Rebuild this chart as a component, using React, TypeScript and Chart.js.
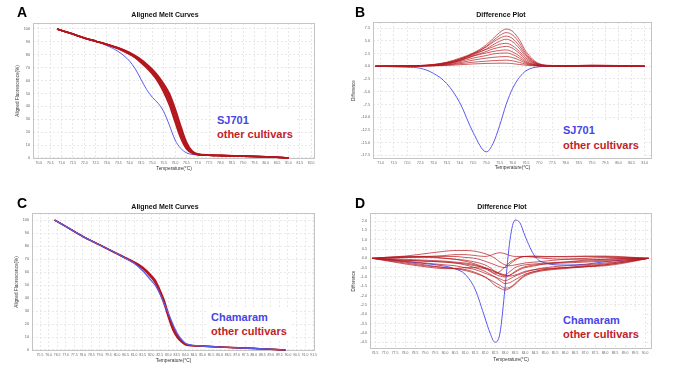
import React, { useEffect, useRef } from "react";
import { Chart, registerables } from "chart.js";
Chart.register(...registerables);

// ---------- DATA ----------
// Panel A: aligned melt curves (SJ701 vs other cultivars)
const tempsA = [70.8, 71.5, 72.0, 72.5, 73.0, 73.5, 74.0, 74.25, 74.5, 74.75, 75.0, 75.25, 75.5, 75.75, 76.0, 76.25, 76.5, 76.75, 77.0, 77.5, 78.0, 79.0, 80.0, 81.0];
const meltA_sj701 = [100, 96, 93, 90.5, 87, 82.5, 75, 69, 61, 53, 47, 42.5, 36, 25.5, 14, 7.5, 4, 2.8, 2.3, 2.0, 1.8, 1.3, 0.9, 0.1];
const meltA_other1 = [100, 96, 93, 90.5, 88, 85, 81, 78.5, 75, 71.5, 67, 61.5, 54.5, 46, 33, 20, 9.5, 4.5, 2.8, 2.2, 1.9, 1.4, 1.0, 0.1];
const meltA_other2 = [100, 96, 93, 90.5, 88, 84.7, 80.3, 77.5, 73.8, 69.8, 65, 59, 51, 41, 28, 15.5, 7.2, 3.8, 2.6, 2.1, 1.8, 1.3, 0.9, 0.1];
const meltA_other3 = [100, 96, 93, 90.5, 88.2, 85.4, 81.8, 79.3, 76.3, 72.8, 68.8, 63.8, 57.5, 50, 38.5, 25, 12.5, 5.5, 3.1, 2.3, 2.0, 1.5, 1.0, 0.1];
const meltA_other4 = [100, 96, 93, 90.5, 88, 85.2, 81.4, 78.9, 75.6, 72.2, 67.9, 62.7, 56, 48, 36, 22.5, 11, 5, 2.9, 2.2, 1.9, 1.4, 1.0, 0.1];
const meltA_other5 = [100, 96, 93, 90.5, 88, 84.9, 80.6, 78, 74.4, 70.6, 66, 60.2, 52.8, 43.5, 30.5, 17.8, 8.3, 4.1, 2.7, 2.1, 1.8, 1.3, 0.9, 0.1];

// Panel B: difference plot
const tempsB = [70.8, 72.0, 72.5, 73.0, 73.5, 74.0, 74.5, 75.0, 75.25, 75.5, 75.75, 76.0, 76.25, 76.5, 77.0, 77.5, 78.0, 79.0, 80.0, 81.0];
const diffB_sj701 = [0, -0.2, -0.4, -1.4, -3.4, -7.2, -13, -16.8, -15.2, -11.7, -7.5, -4.3, -2.2, -0.9, -0.1, 0, 0, 0, 0, 0];
const diffB_o1 = [0, 0.05, 0.15, 0.35, 0.8, 1.6, 2.6, 4.2, 5.4, 6.6, 7.3, 6.8, 5.2, 2.9, 0.5, 0.15, 0.1, 0.2, 0.15, 0];
const diffB_o2 = [0, 0.05, 0.15, 0.3, 0.7, 1.4, 2.4, 3.9, 5.0, 6.0, 6.6, 6.1, 4.6, 2.5, 0.4, 0.12, 0.1, 0.2, 0.12, 0];
const diffB_o3 = [0, 0.05, 0.12, 0.3, 0.7, 1.4, 2.5, 3.8, 4.7, 5.5, 5.9, 5.4, 4.0, 2.2, 0.35, 0.1, 0.08, 0.15, 0.1, 0];
const diffB_o4 = [0, 0.04, 0.1, 0.25, 0.6, 1.2, 2.2, 3.4, 4.2, 4.9, 5.3, 4.8, 3.5, 1.9, 0.3, 0.1, 0.08, 0.15, 0.1, 0];
const diffB_o5 = [0, 0.04, 0.1, 0.25, 0.6, 1.3, 2.4, 3.3, 3.8, 4.3, 4.5, 4.0, 2.9, 1.6, 0.25, 0.08, 0.06, 0.12, 0.08, 0];
const diffB_o6 = [0, 0.03, 0.08, 0.2, 0.5, 1.1, 2.0, 2.9, 3.4, 3.7, 3.9, 3.5, 2.5, 1.3, 0.2, 0.07, 0.05, 0.1, 0.08, 0];
const diffB_o7 = [0, 0.03, 0.08, 0.2, 0.5, 1.1, 2.0, 2.6, 2.9, 3.1, 3.2, 2.8, 2.0, 1.0, 0.15, 0.06, 0.05, 0.1, 0.06, 0];
const diffB_o8 = [0, 0.02, 0.06, 0.15, 0.4, 0.9, 1.6, 2.1, 2.4, 2.55, 2.6, 2.3, 1.6, 0.8, 0.12, 0.05, 0.04, 0.08, 0.05, 0];
const diffB_o9 = [0, 0.02, 0.05, 0.12, 0.3, 0.7, 1.2, 1.6, 1.75, 1.85, 1.9, 1.7, 1.2, 0.6, 0.1, 0.04, 0.03, 0.06, 0.04, 0];
const diffB_o10 = [0, 0.01, 0.04, 0.1, 0.25, 0.5, 0.8, 1.0, 1.1, 1.15, 1.2, 1.05, 0.75, 0.4, 0.07, 0.03, 0.02, 0.05, 0.03, 0];
const diffB_o11 = [0, 0.01, 0.03, 0.08, 0.15, 0.3, 0.45, 0.55, 0.58, 0.6, 0.6, 0.5, 0.35, 0.2, 0.05, 0.02, 0.02, 0.04, 0.02, 0];

// Panel C: aligned melt curves (Chamaram vs other cultivars)
const tempsC = [76.35, 77.0, 78.0, 79.0, 80.0, 80.5, 81.0, 81.5, 82.0, 82.25, 82.5, 82.75, 83.0, 83.25, 83.5, 83.75, 84.0, 84.5, 85.0, 86.0, 87.0, 88.0, 89.0, 89.85];
const meltC_chamaram = [100, 95.1, 87.4, 80.8, 74.2, 70.6, 66.8, 61.0, 53.5, 49.5, 43.5, 36.0, 28.3, 20.5, 13.5, 8.5, 5.2, 3.5, 3.0, 2.3, 1.7, 1.2, 0.6, 0];
const meltC_other1 = [100, 95.1, 87.4, 80.8, 74.2, 70.8, 67.5, 63.2, 56.8, 52.5, 45.5, 37.2, 26.9, 17.3, 11, 7, 4.3, 3.3, 3.0, 2.3, 1.7, 1.2, 0.6, 0];
const meltC_other2 = [100, 95.0, 87.3, 80.7, 74.0, 70.5, 67.0, 62.5, 55.8, 51.2, 44.0, 35.5, 25.2, 15.8, 10.0, 6.4, 4.0, 3.2, 2.9, 2.2, 1.6, 1.1, 0.5, 0];
const meltC_other3 = [100, 95.2, 87.5, 80.9, 74.4, 71.1, 67.9, 63.8, 57.6, 53.5, 46.8, 38.8, 28.4, 18.6, 12.0, 7.6, 4.6, 3.4, 3.1, 2.4, 1.8, 1.3, 0.7, 0];

// Panel D: difference plot
const tempsD = [76.37, 77.0, 78.0, 79.0, 80.0, 80.5, 81.0, 81.5, 82.0, 82.25, 82.5, 82.75, 83.0, 83.25, 83.5, 83.75, 84.0, 84.5, 85.0, 86.0, 87.0, 88.0, 89.0, 90.17];
const diffD_chamaram = [0, -0.05, -0.17, -0.28, -0.42, -0.56, -0.85, -1.65, -3.2, -4.0, -4.5, -4.0, -1.6, 1.0, 2.05, 1.9, 1.2, 0.1, -0.25, -0.36, -0.32, -0.18, -0.08, 0];
const diffD_o1 = [0, 0.05, 0.12, 0.25, 0.38, 0.42, 0.42, 0.38, 0.25, 0.15, 0.0, -0.2, -0.35, -0.4, -0.35, -0.3, -0.25, -0.2, -0.15, -0.05, 0.0, 0.05, 0.03, 0];
const diffD_o2 = [0, 0.02, 0.08, 0.1, 0.15, 0.2, 0.2, 0.15, 0.1, 0.15, 0.25, 0.3, 0.25, 0.15, 0.1, 0.1, 0.1, 0.1, 0.08, 0.1, 0.12, 0.1, 0.05, 0];
const diffD_o3 = [0, -0.05, -0.15, -0.25, -0.35, -0.4, -0.5, -0.6, -0.8, -0.9, -1.0, -1.1, -1.2, -1.1, -0.95, -0.85, -0.75, -0.6, -0.5, -0.4, -0.35, -0.25, -0.15, 0];
const diffD_o4 = [0, -0.08, -0.2, -0.35, -0.5, -0.55, -0.65, -0.8, -1.0, -1.15, -1.3, -1.45, -1.6, -1.55, -1.35, -1.1, -0.9, -0.7, -0.6, -0.5, -0.45, -0.35, -0.2, 0];
const diffD_o5 = [0, -0.1, -0.25, -0.4, -0.5, -0.55, -0.6, -0.75, -1.0, -1.2, -1.45, -1.6, -1.7, -1.6, -1.4, -1.15, -0.95, -0.75, -0.65, -0.55, -0.45, -0.35, -0.2, 0];
const diffD_o6 = [0, 0.05, 0.1, 0.1, 0.0, -0.05, -0.1, -0.2, -0.35, -0.5, -0.7, -0.85, -0.95, -0.9, -0.75, -0.6, -0.5, -0.4, -0.3, -0.2, -0.1, -0.05, 0, 0];
const diffD_o7 = [0, 0.0, -0.05, -0.1, -0.15, -0.2, -0.25, -0.35, -0.55, -0.7, -0.85, -0.95, -1.0, -0.9, -0.7, -0.55, -0.45, -0.35, -0.3, -0.25, -0.2, -0.15, -0.1, 0];
const diffD_o8 = [0, -0.05, -0.1, -0.15, -0.2, -0.25, -0.3, -0.4, -0.5, -0.6, -0.75, -0.85, -0.9, -0.7, -0.5, -0.4, -0.35, -0.3, -0.25, -0.2, -0.15, -0.1, -0.05, 0];
const diffD_o9 = [0, 0.03, 0.05, 0.05, 0.0, -0.05, -0.15, -0.3, -0.5, -0.65, -0.8, -0.7, -0.45, -0.2, -0.05, 0.05, 0.1, 0.05, 0.0, -0.05, -0.05, -0.05, 0, 0];
const diffD_o10 = [0, -0.12, -0.3, -0.45, -0.55, -0.55, -0.5, -0.5, -0.55, -0.6, -0.7, -0.8, -0.9, -0.95, -0.9, -0.8, -0.7, -0.6, -0.55, -0.5, -0.45, -0.4, -0.25, 0];
const diffD_o11 = [0, -0.05, -0.1, -0.15, -0.2, -0.25, -0.35, -0.5, -0.7, -0.85, -1.0, -1.2, -1.35, -1.3, -1.15, -1.0, -0.85, -0.7, -0.6, -0.5, -0.4, -0.3, -0.15, 0];
const diffD_o12 = [0, 0.02, 0.05, 0.08, 0.1, 0.1, 0.05, 0.0, -0.15, -0.25, -0.35, -0.45, -0.5, -0.3, -0.1, 0.05, 0.1, 0.12, 0.1, 0.08, 0.1, 0.12, 0.08, 0];

// ---------- STYLES ----------
const BLUE = "#5a5af0";
const RED = "#b3161c";
const RED_THIN = "rgba(180,24,30,0.78)";
const GRID = "#e2e2e2";

const pts = (xs: number[], ys: number[]) => xs.map((x, i) => ({ x, y: ys[i] }));

const line = (xs: number[], ys: number[], color: string, width: number) => ({
  data: pts(xs, ys),
  borderColor: color,
  borderWidth: width,
  pointRadius: 0,
  fill: false,
  cubicInterpolationMode: "monotone" as const,
});

const plotBorder = {
  id: "plotBorder",
  beforeDatasetsDraw(chart: any) {
    const { ctx, chartArea } = chart;
    const { left, top, right, bottom } = chartArea;
    ctx.save();
    ctx.strokeStyle = "#c4c4c4";
    ctx.lineWidth = 1;
    ctx.strokeRect(Math.round(left) + 0.5, Math.round(top) + 0.5, Math.round(right - left) - 1, Math.round(bottom - top) - 1);
    ctx.restore();
  },
};

type PanelCfg = {
  left: number; top: number; width: number; height: number;
  datasets: any[];
  xMin: number; xMax: number;
  yMin: number; yMax: number; yStep: number; yDec: number;
  yTitle: string;
  yW: number; padR: number; padT: number; padB: number;
  yTitlePad: number; xTitlePad: number;
};

function Panel(p: PanelCfg) {
  const ref = useRef<HTMLCanvasElement>(null);
  useEffect(() => {
    if (!ref.current) return;
    const chart = new Chart(ref.current, {
      type: "line",
      data: { datasets: p.datasets },
      plugins: [plotBorder],
      options: {
        animation: false,
        responsive: false,
        devicePixelRatio: 1,
        layout: { padding: { left: 0, right: p.padR, top: p.padT, bottom: p.padB } },
        plugins: { legend: { display: false }, tooltip: { enabled: false }, title: { display: false } },
        scales: {
          x: {
            type: "linear",
            min: p.xMin,
            max: p.xMax,
            afterFit: (s: any) => { s.height = 14; },
            ticks: {
              stepSize: 0.5,
              includeBounds: false,
              autoSkip: false,
              maxRotation: 0,
              minRotation: 0,
              padding: 2,
              color: "#666",
              font: { family: "Liberation Sans, Arial", size: 3.4 },
              callback: (v: any) => Number(v).toFixed(1),
            },
            grid: { color: GRID, drawTicks: false, lineWidth: 0.8 },
            border: { display: false, dash: [2, 2] },
            title: {
              display: true,
              text: "Temperature(°C)",
              color: "#333",
              font: { family: "Liberation Sans, Arial", size: 4.8 },
              padding: { top: 0, bottom: p.xTitlePad },
            },
          },
          y: {
            type: "linear",
            min: p.yMin,
            max: p.yMax,
            afterFit: (s: any) => { s.width = p.yW; },
            ticks: {
              stepSize: p.yStep,
              includeBounds: false,
              autoSkip: false,
              padding: 3,
              color: "#666",
              font: { family: "Liberation Sans, Arial", size: 3.8 },
              callback: (v: any) => Number(v).toFixed(p.yDec),
            },
            grid: { color: GRID, drawTicks: false, lineWidth: 0.8 },
            border: { display: false, dash: [2, 2] },
            title: {
              display: true,
              text: p.yTitle,
              color: "#333",
              font: { family: "Liberation Sans, Arial", size: 4.6 },
              padding: { top: p.yTitlePad, bottom: 0 },
            },
          },
        },
      } as any,
    });
    return () => chart.destroy();
  }, []);
  return (
    <canvas
      ref={ref}
      width={p.width}
      height={p.height}
      style={{ position: "absolute", left: p.left, top: p.top, width: p.width, height: p.height }}
    />
  );
}

const letterStyle: React.CSSProperties = {
  position: "absolute",
  fontFamily: "Liberation Sans, Arial, sans-serif",
  fontWeight: "bold",
  fontSize: 14,
  lineHeight: "14px",
  color: "#000",
};
const titleStyle: React.CSSProperties = {
  position: "absolute",
  fontFamily: "Liberation Sans, Arial, sans-serif",
  fontWeight: "bold",
  fontSize: 7,
  lineHeight: "8px",
  color: "#111",
  transform: "translateX(-50%)",
  whiteSpace: "nowrap",
};
const noteBox = (lh: number): React.CSSProperties => ({
  position: "absolute",
  background: "#fff",
  padding: "3px 4px 3px 3px",
  fontFamily: "Liberation Sans, Arial, sans-serif",
  fontWeight: "bold",
  fontSize: 11,
  lineHeight: lh + "px",
  whiteSpace: "nowrap",
});

export default function App() {
  const dsA = [
    line(tempsA, meltA_other2, RED, 1.6),
    line(tempsA, meltA_other5, RED, 1.6),
    line(tempsA, meltA_other1, RED, 1.6),
    line(tempsA, meltA_other4, RED, 1.6),
    line(tempsA, meltA_other3, RED, 1.6),
    line(tempsA, meltA_sj701, BLUE, 1),
  ];
  const dsB = [
    diffB_o1, diffB_o2, diffB_o3, diffB_o4, diffB_o5, diffB_o6,
    diffB_o7, diffB_o8, diffB_o9, diffB_o10, diffB_o11,
  ].map((v) => line(tempsB, v, RED_THIN, 0.9));
  dsB.push(line(tempsB, diffB_sj701, BLUE, 1));
  const dsC = [
    line(tempsC, meltC_chamaram, BLUE, 1.2),
    line(tempsC, meltC_other2, RED, 1.4),
    line(tempsC, meltC_other1, RED, 1.4),
    line(tempsC, meltC_other3, RED, 1.4),
  ];
  const dsD = [
    diffD_o1, diffD_o2, diffD_o3, diffD_o4, diffD_o5, diffD_o6,
    diffD_o7, diffD_o8, diffD_o9, diffD_o10, diffD_o11, diffD_o12,
  ].map((v) => line(tempsD, v, RED_THIN, 0.9));
  dsD.push(line(tempsD, diffD_chamaram, BLUE, 1));

  return (
    <div style={{ position: "absolute", left: 0, top: 0, width: 681, height: 383, background: "#fff", overflow: "hidden" }}>
      <Panel left={0} top={0} width={340} height={190} datasets={dsA}
        xMin={69.74} xMax={82.17} yMin={-0.8} yMax={104.6} yStep={10} yDec={0}
        yTitle="Aligned Fluorescence(%)" yW={33} padR={25} padT={23} padB={17} yTitlePad={15} xTitlePad={1.7} />
      <Panel left={340} top={0} width={341} height={190} datasets={dsB}
        xMin={70.71} xMax={81.27} yMin={-18.2} yMax={8.68} yStep={2.5} yDec={1}
        yTitle="Difference" yW={33} padR={29} padT={22} padB={17} yTitlePad={11} xTitlePad={2} />
      <Panel left={0} top={190} width={340} height={193} datasets={dsC}
        xMin={75.03} xMax={91.58} yMin={-0.77} yMax={105.4} yStep={10} yDec={0}
        yTitle="Aligned Fluorescence(%)" yW={32} padR={25} padT={23} padB={18} yTitlePad={13.5} xTitlePad={1.7} />
      <Panel left={340} top={190} width={341} height={193} datasets={dsD}
        xMin={76.25} xMax={90.35} yMin={-4.86} yMax={2.43} yStep={0.5} yDec={1}
        yTitle="Difference" yW={30} padR={29} padT={23} padB={20} yTitlePad={11} xTitlePad={0.5} />

      <div style={{ ...letterStyle, left: 17, top: 5 }}>A</div>
      <div style={{ ...letterStyle, left: 355, top: 5 }}>B</div>
      <div style={{ ...letterStyle, left: 17, top: 196 }}>C</div>
      <div style={{ ...letterStyle, left: 355, top: 196 }}>D</div>

      <div style={{ ...titleStyle, left: 165, top: 11 }}>Aligned Melt Curves</div>
      <div style={{ ...titleStyle, left: 501, top: 11 }}>Difference Plot</div>
      <div style={{ ...titleStyle, left: 165, top: 203 }}>Aligned Melt Curves</div>
      <div style={{ ...titleStyle, left: 502, top: 203 }}>Difference Plot</div>

      <div style={{ ...noteBox(14), left: 214, top: 110 }}>
        <div style={{ color: "#4646e6" }}>SJ701</div>
        <div style={{ color: "#c0232b" }}>other cultivars</div>
      </div>
      <div style={{ ...noteBox(15), left: 560, top: 120 }}>
        <div style={{ color: "#4646e6" }}>SJ701</div>
        <div style={{ color: "#c0232b" }}>other cultivars</div>
      </div>
      <div style={{ ...noteBox(14), left: 208, top: 307 }}>
        <div style={{ color: "#4646e6" }}>Chamaram</div>
        <div style={{ color: "#c0232b" }}>other cultivars</div>
      </div>
      <div style={{ ...noteBox(14), left: 560, top: 310 }}>
        <div style={{ color: "#4646e6" }}>Chamaram</div>
        <div style={{ color: "#c0232b" }}>other cultivars</div>
      </div>
    </div>
  );
}
